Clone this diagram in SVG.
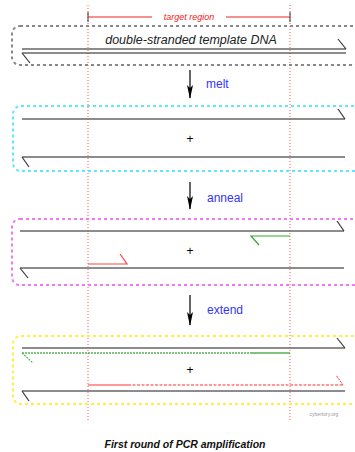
<svg xmlns="http://www.w3.org/2000/svg" width="355" height="452" viewBox="0 0 355 452">
<style>
.box{fill:none;stroke-width:2;stroke-dasharray:3 3}
.strand{fill:none;stroke:#666;stroke-width:1.6}
.hook{fill:none;stroke:#333;stroke-width:1.2}
.guide{stroke:#f55;stroke-width:1;stroke-dasharray:1 2}
.plus{font-family:"Liberation Sans",Arial,sans-serif;font-size:12px;fill:#000;text-anchor:middle}
.step{font-family:"Liberation Sans",Arial,sans-serif;font-size:12px;fill:#33f}
.arrow{stroke:#000;stroke-width:1.2}
</style>
<defs>
<marker id="ah" viewBox="0 0 14 6" refX="13" refY="3" markerWidth="14" markerHeight="6" markerUnits="userSpaceOnUse" orient="auto">
<path d="M0,0 L14,3 L0,6 L3,3 Z" fill="#000"/>
</marker>
</defs>
<rect width="355" height="452" fill="#fff"/>
<g id="guides">
<line class="guide" x1="88" y1="5" x2="88" y2="422"/>
<line class="guide" x1="290" y1="5" x2="290" y2="422"/>
</g>
<g id="target">
<line x1="88" y1="12" x2="88" y2="22" stroke="#333" stroke-width="1"/>
<line x1="290" y1="12" x2="290" y2="22" stroke="#333" stroke-width="1"/>
<line x1="88" y1="17" x2="152" y2="17" stroke="#e22" stroke-width="1"/>
<line x1="226" y1="17" x2="290" y2="17" stroke="#e22" stroke-width="1"/>
<text x="189" y="20" font-family="Liberation Sans,Arial,sans-serif" font-size="9" font-style="italic" fill="#e22" text-anchor="middle">target region</text>
</g>
<g id="box1">
<rect class="box" x="12" y="26" width="350" height="39" rx="8" stroke="#888"/>
<text x="191" y="44" font-family="Liberation Sans,Arial,sans-serif" font-size="12.5" font-style="italic" fill="#222" text-anchor="middle">double-stranded template DNA</text>
<line class="strand" x1="22" y1="49" x2="346" y2="49"/>
<line class="strand" x1="22" y1="53" x2="346" y2="53" stroke="#333"/>
<line class="hook" x1="346" y1="49" x2="338" y2="39"/>
<line class="hook" x1="22" y1="53" x2="30" y2="63"/>
</g>
<g id="box2">
<rect class="box" x="13" y="106" width="350" height="65" rx="8" stroke="#5ee8ff"/>
<line class="strand" x1="22" y1="119" x2="345" y2="119"/>
<line class="hook" x1="345" y1="119" x2="338" y2="109"/>
<line class="strand" x1="22" y1="157" x2="345" y2="157"/>
<line class="hook" x1="22" y1="157" x2="29" y2="167"/>
<text class="plus" x="190" y="143">+</text>
</g>
<g id="box3">
<rect class="box" x="12" y="219" width="350" height="66" rx="8" stroke="#f07af0"/>
<line class="strand" x1="20" y1="231" x2="344" y2="231"/>
<line class="hook" x1="344" y1="231" x2="337" y2="221"/>
<line class="strand" x1="20" y1="268" x2="344" y2="268"/>
<line class="hook" x1="20" y1="268" x2="28" y2="278"/>
<polyline points="88,264 127,264 120,254" fill="none" stroke="#f44" stroke-width="1.2"/>
<polyline points="290,236 251,236 259,245" fill="none" stroke="#3a3" stroke-width="1.2"/>
<text class="plus" x="190" y="255">+</text>
</g>
<g id="box4">
<rect class="box" x="13" y="336" width="350" height="68" rx="8" stroke="#ffee44"/>
<line class="strand" x1="22" y1="348" x2="345" y2="348"/>
<line class="hook" x1="345" y1="348" x2="337" y2="338"/>
<line x1="22" y1="353" x2="250" y2="353" stroke="#080" stroke-width="1" stroke-dasharray="2 1"/>
<line x1="250" y1="353" x2="290" y2="353" stroke="#080" stroke-width="1.2"/>
<line x1="22" y1="353" x2="33" y2="363" stroke="#4b4" stroke-width="1.2" stroke-dasharray="2 1"/>
<line class="strand" x1="22" y1="391" x2="345" y2="391"/>
<line class="hook" x1="22" y1="391" x2="29" y2="401"/>
<line x1="88" y1="385" x2="128" y2="385" stroke="#f33" stroke-width="1.2"/>
<line x1="128" y1="385" x2="343" y2="385" stroke="#f33" stroke-width="1" stroke-dasharray="3 1.5"/>
<line x1="343" y1="385" x2="336" y2="375" stroke="#f33" stroke-width="1" stroke-dasharray="2 1"/>
<text class="plus" x="190" y="374">+</text>
<text x="324" y="416" font-family="Liberation Sans,Arial,sans-serif" font-size="5" fill="#999" text-anchor="middle">cybertory.org</text>
</g>
<g id="connectors">
<line class="arrow" x1="190" y1="70" x2="190" y2="98" marker-end="url(#ah)"/>
<line class="arrow" x1="190" y1="182" x2="190" y2="209" marker-end="url(#ah)"/>
<line class="arrow" x1="190" y1="295" x2="190" y2="325" marker-end="url(#ah)"/>
<text class="step" x="206" y="88">melt</text>
<text class="step" x="207" y="202">anneal</text>
<text class="step" x="207" y="314">extend</text>
</g>
<text x="185" y="448" font-family="Liberation Sans,Arial,sans-serif" font-size="10.5" font-style="italic" font-weight="bold" fill="#111" text-anchor="middle">First round of PCR amplification</text>
</svg>
